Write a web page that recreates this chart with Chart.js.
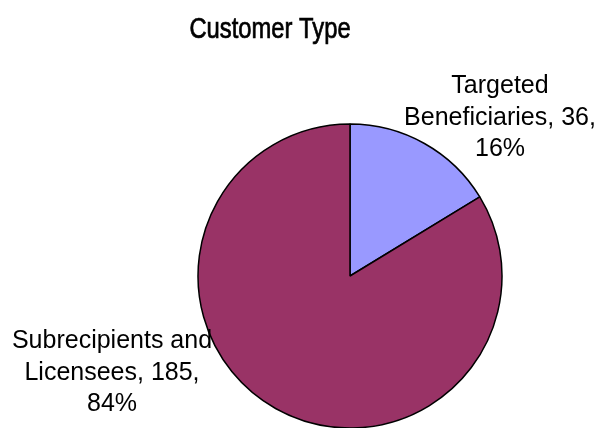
<!DOCTYPE html>
<html>
<head>
<meta charset="utf-8">
<script src="https://cdn.jsdelivr.net/npm/chart.js@4/dist/chart.umd.min.js"></script>
<style>
  html, body { margin: 0; padding: 0; background: #fff; }
  #wrap { width: 595px; height: 428px; position: relative; }
</style>
</head>
<body>
<div id="wrap"><canvas id="customerChart" width="595" height="428"></canvas></div>
<script>
// Customer types and how many of each
const categories = ['Targeted Beneficiaries', 'Subrecipients and Licensees'];
const categoryLines = [['Targeted', 'Beneficiaries'], ['Subrecipients and', 'Licensees']];
const counts = [36, 185];
const sliceColors = ['#9999FF', '#993366'];

// Where each data label block is centred (first baseline)
const labelAnchors = [
    { x: 500, y: 93 },
    { x: 112, y: 348 }
];

const total = counts.reduce((a, b) => a + b, 0);

// Title and outside labels, drawn on top of the pie
const pieText = {
    id: 'pieText',
    afterDraw(chart) {
        const ctx = chart.ctx;
        ctx.save();
        ctx.fillStyle = '#000';
        ctx.strokeStyle = '#000';
        ctx.textAlign = 'center';
        ctx.textBaseline = 'alphabetic';

        // condensed title: squeeze the regular face horizontally
        ctx.save();
        ctx.translate(270, 38);
        ctx.scale(0.82, 1);
        ctx.font = '29px "Liberation Sans", Arial, sans-serif';
        ctx.lineWidth = 0.7;
        ctx.fillText('Customer Type', 0, 0);
        ctx.strokeText('Customer Type', 0, 0);
        ctx.restore();

        ctx.font = '25px "Liberation Sans", Arial, sans-serif';
        chart.data.datasets[0].data.forEach((v, i) => {
            const pct = Math.round(v / total * 100) + '%';
            const name = categoryLines[i];
            const lines = name.slice(0, -1).concat([name[name.length - 1] + ', ' + v + ',', pct]);
            const a = labelAnchors[i];
            lines.forEach((t, j) => ctx.fillText(t, a.x, a.y + j * 31.5));
        });
        ctx.restore();
    }
};

new Chart(document.getElementById('customerChart'), {
    type: 'pie',
    data: {
        labels: categories,
        datasets: [{
            data: counts,
            backgroundColor: sliceColors,
            borderColor: '#000',
            borderWidth: 1.5,
            hoverOffset: 0,
            radius: 152
        }]
    },
    options: {
        responsive: false,
        animation: false,
        events: [],
        layout: {
            padding: { top: 124, bottom: 0, left: 198, right: 93 }
        },
        plugins: {
            legend: { display: false },
            tooltip: { enabled: false },
            title: { display: false }
        }
    },
    plugins: [pieText]
});
</script>
</body>
</html>
